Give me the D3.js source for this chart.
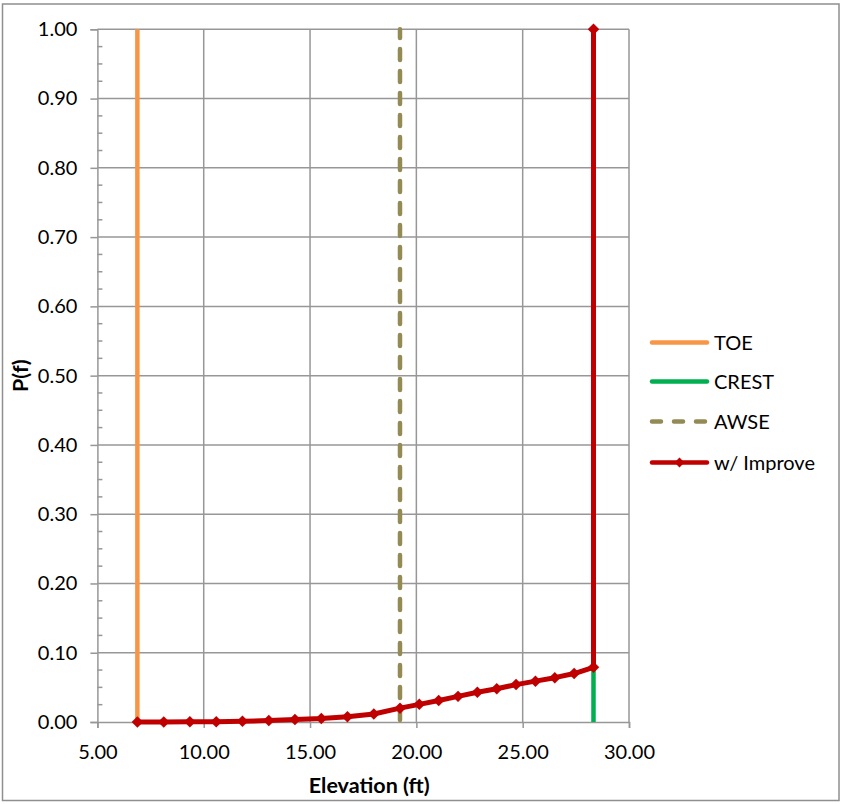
<!DOCTYPE html>
<html>
<head>
<meta charset="utf-8">
<script src="https://cdn.jsdelivr.net/npm/d3@7"></script>
<style>
  html, body { margin: 0; padding: 0; background: #fff; }
  svg { display: block; }
  text { font-family: Lato, "Open Sans", sans-serif; fill: #000; }
</style>
</head>
<body>
<svg id="chart" width="841" height="804"></svg>
<script>
// ---- data ----
const xTicks = [5, 10, 15, 20, 25, 30];
const yTicks = [0, 0.1, 0.2, 0.3, 0.4, 0.5, 0.6, 0.7, 0.8, 0.9, 1.0];
const seriesNames = ["TOE", "CREST", "AWSE", "w/ Improve"];

const toeX = [6.88, 6.88];
const toeY = [0, 1];
const crestX = [28.33, 28.33];
const crestY = [0, 1];
const awseX = [19.23, 19.23];
const awseY = [0, 1];

const improveX = [6.88, 8.12, 9.35, 10.59, 11.82, 13.06, 14.29, 15.53, 16.76, 18.00,
                  19.23, 20.14, 21.05, 21.96, 22.87, 23.78, 24.69, 25.60, 26.51, 27.42,
                  28.33, 28.33];
const improveY = [0, 0.0001, 0.0002, 0.0004, 0.001, 0.002, 0.0035, 0.005, 0.0075, 0.0115,
                  0.020, 0.0255, 0.031, 0.037, 0.043, 0.048, 0.054, 0.059, 0.064, 0.070,
                  0.079, 1.00];

// ---- layout ----
const svg = d3.select("#chart");
const L = 97.4, R = 629, T = 29.3, B = 722;
const x = d3.scaleLinear().domain([5, 30]).range([L, R]);
const y = d3.scaleLinear().domain([0, 1]).range([B, T]);

const gridColor = "#979797";
const colors = { TOE: "#F79646", CREST: "#00B050", AWSE: "#948A54", "w/ Improve": "#C00000" };

svg.append("rect").attr("width", 841).attr("height", 804).attr("fill", "#fff");
svg.append("rect").attr("x", 2.5).attr("y", 4).attr("width", 836.5).attr("height", 796.5)
  .attr("fill", "none").attr("stroke", "#8f8f8f").attr("stroke-width", 1.5);

// gridlines
svg.append("g").selectAll("line").data(yTicks.slice(1)).join("line")
  .attr("x1", L).attr("x2", R).attr("y1", d => y(d)).attr("y2", d => y(d))
  .attr("stroke", gridColor).attr("stroke-width", 1.5);
svg.append("g").selectAll("line").data(xTicks.slice(1)).join("line")
  .attr("x1", d => x(d)).attr("x2", d => x(d)).attr("y1", T).attr("y2", B)
  .attr("stroke", gridColor).attr("stroke-width", 1.5);

// x axis
const xAxis = d3.axisBottom(x).tickValues(xTicks).tickFormat(d3.format(".2f")).tickSize(6).tickPadding(17);
const gx = svg.append("g").attr("transform", `translate(0,${B})`).call(xAxis);
gx.select(".domain").attr("stroke", gridColor).attr("stroke-width", 1.5);
gx.selectAll(".tick line").attr("stroke", gridColor).attr("stroke-width", 1.5);
gx.selectAll("text").attr("font-size", 20).attr("font-family", "Lato").attr("fill", "#000");

// y axis
const yAxis = d3.axisLeft(y).tickValues(yTicks).tickFormat(d3.format(".2f")).tickSize(7).tickPadding(13);
const gy = svg.append("g").attr("transform", `translate(${L},0)`).call(yAxis);
gy.select(".domain").attr("stroke", gridColor).attr("stroke-width", 1.5);
gy.selectAll(".tick line").attr("stroke", gridColor).attr("stroke-width", 1.5);
gy.selectAll("text").attr("font-size", 20).attr("font-family", "Lato").attr("fill", "#000");

// minor ticks (inside)
const minor = d3.range(0, 40).map(i => i * 0.025).filter((d, i) => i % 4 !== 0);
svg.append("g").selectAll("line").data(minor).join("line")
  .attr("x1", L).attr("x2", L + 5).attr("y1", d => y(d)).attr("y2", d => y(d))
  .attr("stroke", gridColor).attr("stroke-width", 1.5);

// axis titles
svg.append("text").attr("x", (L + R) / 2 + 6).attr("y", 793).attr("text-anchor", "middle")
  .attr("font-weight", "bold").attr("font-size", 21.5).text("Elevation (ft)");
svg.append("text").attr("transform", `translate(28,${(T + B) / 2}) rotate(-90)`)
  .attr("text-anchor", "middle").attr("font-weight", "bold").attr("font-size", 21.5).text("P(f)");

// series
const line = d3.line().x(d => x(d[0])).y(d => y(d[1]));
const zip = (a, b) => a.map((v, i) => [v, b[i]]);

svg.append("path").datum(zip(toeX, toeY)).attr("d", line)
  .attr("fill", "none").attr("stroke", colors.TOE).attr("stroke-width", 4.5);
svg.append("path").datum(zip(crestX, crestY)).attr("d", line)
  .attr("fill", "none").attr("stroke", colors.CREST).attr("stroke-width", 4.5);
svg.append("path").datum(zip(awseX, awseY)).attr("d", line)
  .attr("fill", "none").attr("stroke", colors.AWSE).attr("stroke-width", 4.5)
  .attr("stroke-dasharray", "11,11").attr("stroke-linecap", "round")
  .attr("stroke-dashoffset", -2);

const impData = zip(improveX, improveY);
svg.append("path").datum(impData).attr("d", line)
  .attr("fill", "none").attr("stroke", colors["w/ Improve"]).attr("stroke-width", 5)
  .attr("stroke-linejoin", "round");
svg.append("g").selectAll("path").data(impData).join("path")
  .attr("transform", d => `translate(${x(d[0])},${y(d[1])}) rotate(45)`)
  .attr("d", d3.symbol().type(d3.symbolSquare).size(66))
  .attr("fill", colors["w/ Improve"]);

// legend
const legY = [342.5, 381.5, 421.5, 462.5];
const leg = svg.append("g");
seriesNames.forEach((name, i) => {
  const g = leg.append("g").attr("transform", `translate(0,${legY[i]})`);
  const ln = g.append("line").attr("x1", 652).attr("x2", 707).attr("y1", 0).attr("y2", 0)
    .attr("stroke", colors[name]).attr("stroke-width", 4.5).attr("stroke-linecap", "round");
  if (name === "AWSE") ln.attr("stroke-dasharray", "9,13");
  if (name === "w/ Improve") {
    g.append("path").attr("transform", "translate(679.5,0) rotate(45)")
      .attr("d", d3.symbol().type(d3.symbolSquare).size(48)).attr("fill", colors[name]);
  }
  g.append("text").attr("x", 714).attr("y", 0).attr("dy", "0.36em")
    .attr("font-size", 20).text(name);
});
</script>
</body>
</html>
